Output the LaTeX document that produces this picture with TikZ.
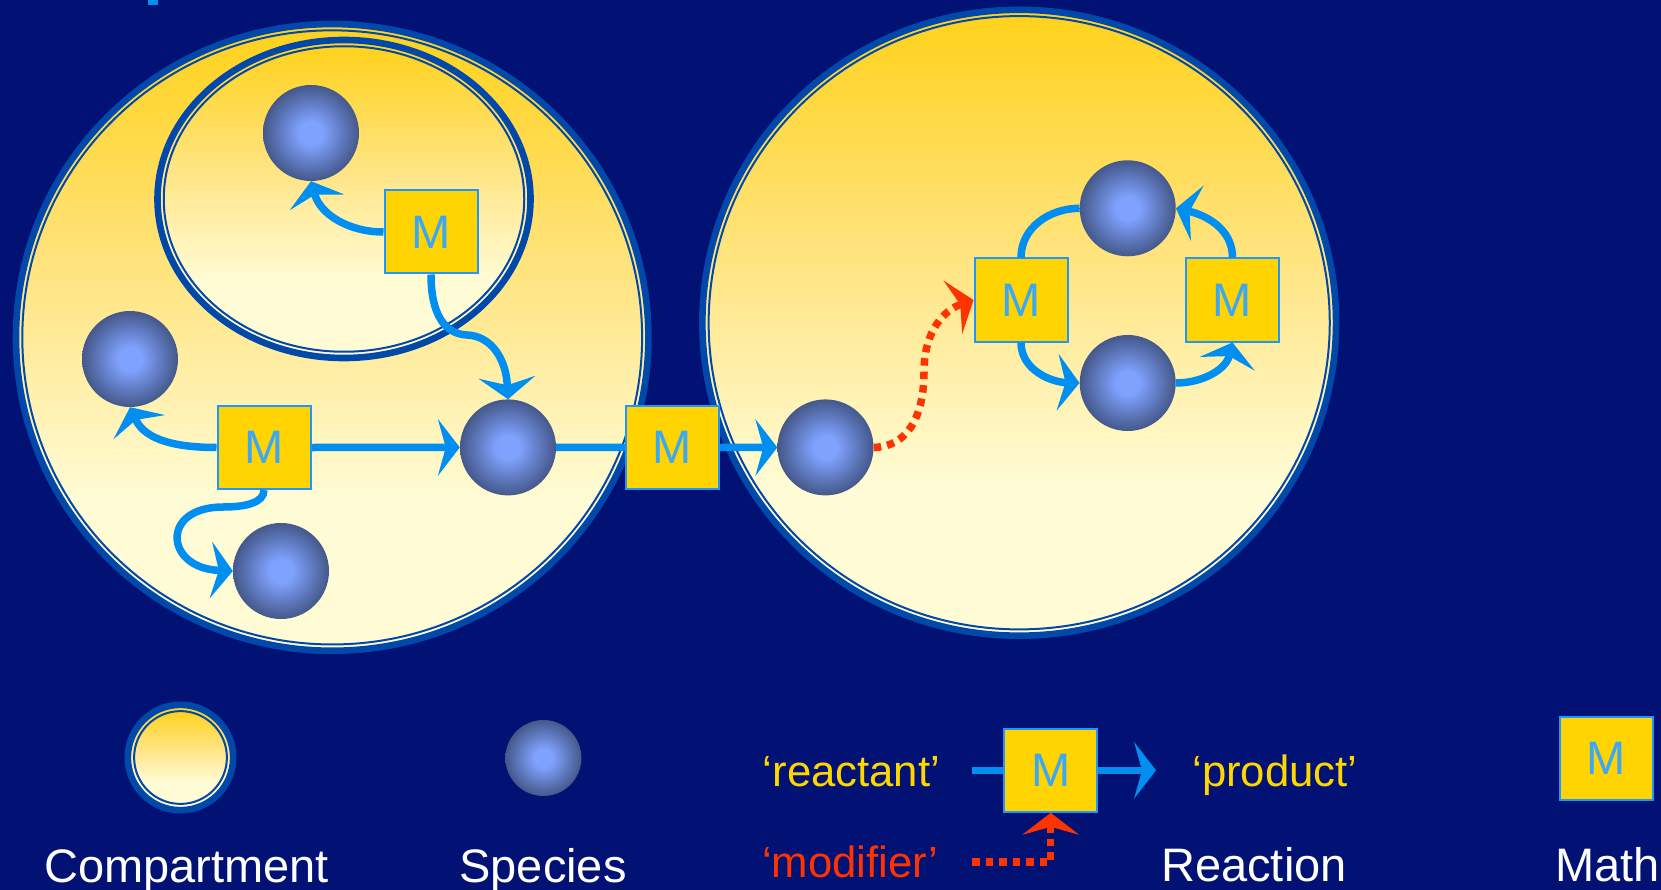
\documentclass[tikz,border=0pt]{standalone}
\usepackage{fontspec}
\setmainfont{Liberation Sans}
\usetikzlibrary{arrows.meta,shapes.geometric}

\definecolor{bg}{RGB}{2,17,116}
\definecolor{ring}{RGB}{0,72,170}
\definecolor{gold}{RGB}{255,210,28}
\definecolor{goldmid}{RGB}{255,228,130}
\definecolor{pale}{RGB}{255,251,212}
\definecolor{flow}{RGB}{0,142,240}
\definecolor{modred}{RGB}{255,51,0}
\definecolor{boxfill}{RGB}{255,212,0}
\definecolor{boxline}{RGB}{30,150,255}
\definecolor{mtext}{RGB}{60,168,245}
\definecolor{sphc}{RGB}{128,162,255}
\definecolor{sphe}{RGB}{68,88,138}
\definecolor{labyellow}{RGB}{255,215,0}

% compartment fill: pale at the bottom, gold at the top
\pgfdeclareverticalshading{compshade}{100bp}{color(0bp)=(pale); color(25bp)=(pale); color(37bp)=(pale); color(55bp)=(goldmid); color(75bp)=(gold); color(100bp)=(gold)}
% species ball: light centre, dark rim
\pgfdeclareradialshading{sphshade}{\pgfpoint{0bp}{0bp}}{color(0bp)=(sphc); color(6bp)=(sphc); color(25bp)=(sphe); color(50bp)=(sphe)}

\begin{document}
\begin{tikzpicture}[x=1pt, y=1pt,
  compout/.style={ellipse, inner sep=0pt, draw=ring, line width=6.6pt, shade, shading=compshade},
  compin/.style={ellipse, inner sep=0pt, draw=ring, line width=2pt, shade, shading=compshade},
  species/.style={circle, inner sep=0pt, minimum size=96pt, shade, shading=sphshade},
  mbox/.style={rectangle, inner sep=0pt, minimum width=93pt, minimum height=83pt,
    fill=boxfill, draw=boxline, line width=2pt, text=mtext, font=\fontsize{47pt}{50pt}\selectfont},
  flowline/.style={draw=flow, line width=7.5pt},
  modline/.style={draw=modred, line width=7.5pt, dash pattern=on 7.5pt off 6pt},
  headed/.style={-{Stealth[length=22pt, width=57pt, inset=8pt, line width=0pt]}},
  lab/.style={inner sep=0pt, anchor=base, font=\fontsize{47pt}{50pt}\selectfont, text=white},
  smalllab/.style={inner sep=0pt, anchor=base, font=\fontsize{43.7pt}{46pt}\selectfont}]

% canvas
\fill[bg] (0,0) rectangle (1661,-890);
\useasboundingbox (0,0) rectangle (1661,-890);
\fill[flow] (147.5,0) rectangle (158,-5.5);

% compartments
\node[compout, minimum width=632.4pt, minimum height=626.7pt] (leftc) at (332.2,-337.4) {};
\node[compin, minimum width=619.8pt, minimum height=614.1pt] (leftci) at (leftc.center) {};
\node[compout, minimum width=373pt, minimum height=318pt] (topc) at (344,-199) {};
\node[compin, minimum width=360.5pt, minimum height=305.5pt] (topci) at (topc.center) {};
\node[compout, minimum width=633.7pt, minimum height=625.9pt] (rightc) at (1019.2,-322.75) {};
\node[compin, minimum width=621.1pt, minimum height=613.3pt] (rightci) at (rightc.center) {};

% species
\node[species] (s1) at (311,-133) {};
\node[species] (s2) at (130,-359) {};
\node[species] (s3) at (281,-571) {};
\node[species] (s4) at (508,-447.4) {};
\node[species] (s5) at (825.5,-447.4) {};
\node[species] (sT) at (1127.7,-208.3) {};
\node[species] (sB) at (1127.7,-383) {};

% reactions
\node[mbox] (r1) at (431,-232) {M};
\node[mbox] (r2) at (264,-447.5) {M};
\node[mbox] (r3) at (672.5,-447.5) {M};
\node[mbox] (rA) at (1021,-300) {M};
\node[mbox] (rB) at (1232.5,-300) {M};

% connectors, left compartment
\draw[flowline, headed] (r1.west) to[out=180, in=-74] (s1.south);
\draw[flowline, headed] (r1.south) .. controls (431,-315) and (445,-334) .. (467,-335)
  .. controls (492,-336) and (506,-360) .. (s4.north);
\draw[flowline, headed] (r2.west) to[out=180, in=-65] (s2.south);
\draw[flowline, headed] (r2.east) -- (s4.west);
\draw[flowline, headed] (r2.south) .. controls (264,-503) and (245,-507) .. (223,-507)
  .. controls (160,-507) and (165,-568) .. (s3.west);

% transport between compartments
\draw[flowline] (s4.east) -- (r3.west);
\draw[flowline, headed] (r3.east) -- (s5.west);

% connectors, right compartment
\draw[modline, headed] (s5.east) .. controls (905,-447) and (924,-420) .. (924,-372)
  .. controls (924,-330) and (945,-310) .. (rA.west);
\draw[flowline] (rA.north) to[out=90, in=180] (sT.west);
\draw[flowline, headed] (rA.south) to[out=-90, in=178] (sB.west);
\draw[flowline, headed] (sB.east) to[out=0, in=-104] (rB.south);
\draw[flowline, headed] (rB.north) to[out=90, in=-13] (sT.east);

% legend
\node[compout, minimum size=105.4pt] (legc) at (180.5,-757.5) {};
\node[compin, minimum size=92.8pt] (legci) at (legc.center) {};
\node[species, minimum size=76pt] (legs) at (543.4,-758) {};
\node[mbox] (legr) at (1050.7,-770.3) {M};
\node[mbox] (legm) at (1606.4,-758.3) {M};
\coordinate (rin) at (972,-770.3);
\coordinate (rout) at (1156,-770.3);
\coordinate (mstart) at (972,-862);
\draw[flowline] (rin) -- (legr.west);
\draw[flowline, headed] (legr.east) -- (rout);
\draw[modline, headed] (mstart) -| (legr.south);

\node[lab] (tcomp) at (186.5,-882) {Compartment};
\node[lab] (tspec) at (543,-882) {Species};
\node[smalllab, text=labyellow] (treact) at (851.5,-786) {‘reactant’};
\node[smalllab, text=labyellow] (tprod) at (1275,-786) {‘product’};
\node[smalllab, text=modred] (tmod) at (850.5,-877) {‘modifier’};
\node[lab] (treac) at (1254,-881) {Reaction};
\node[lab, anchor=base west] (tmath) at (1555,-881) {Math};
\end{tikzpicture}
\end{document}
